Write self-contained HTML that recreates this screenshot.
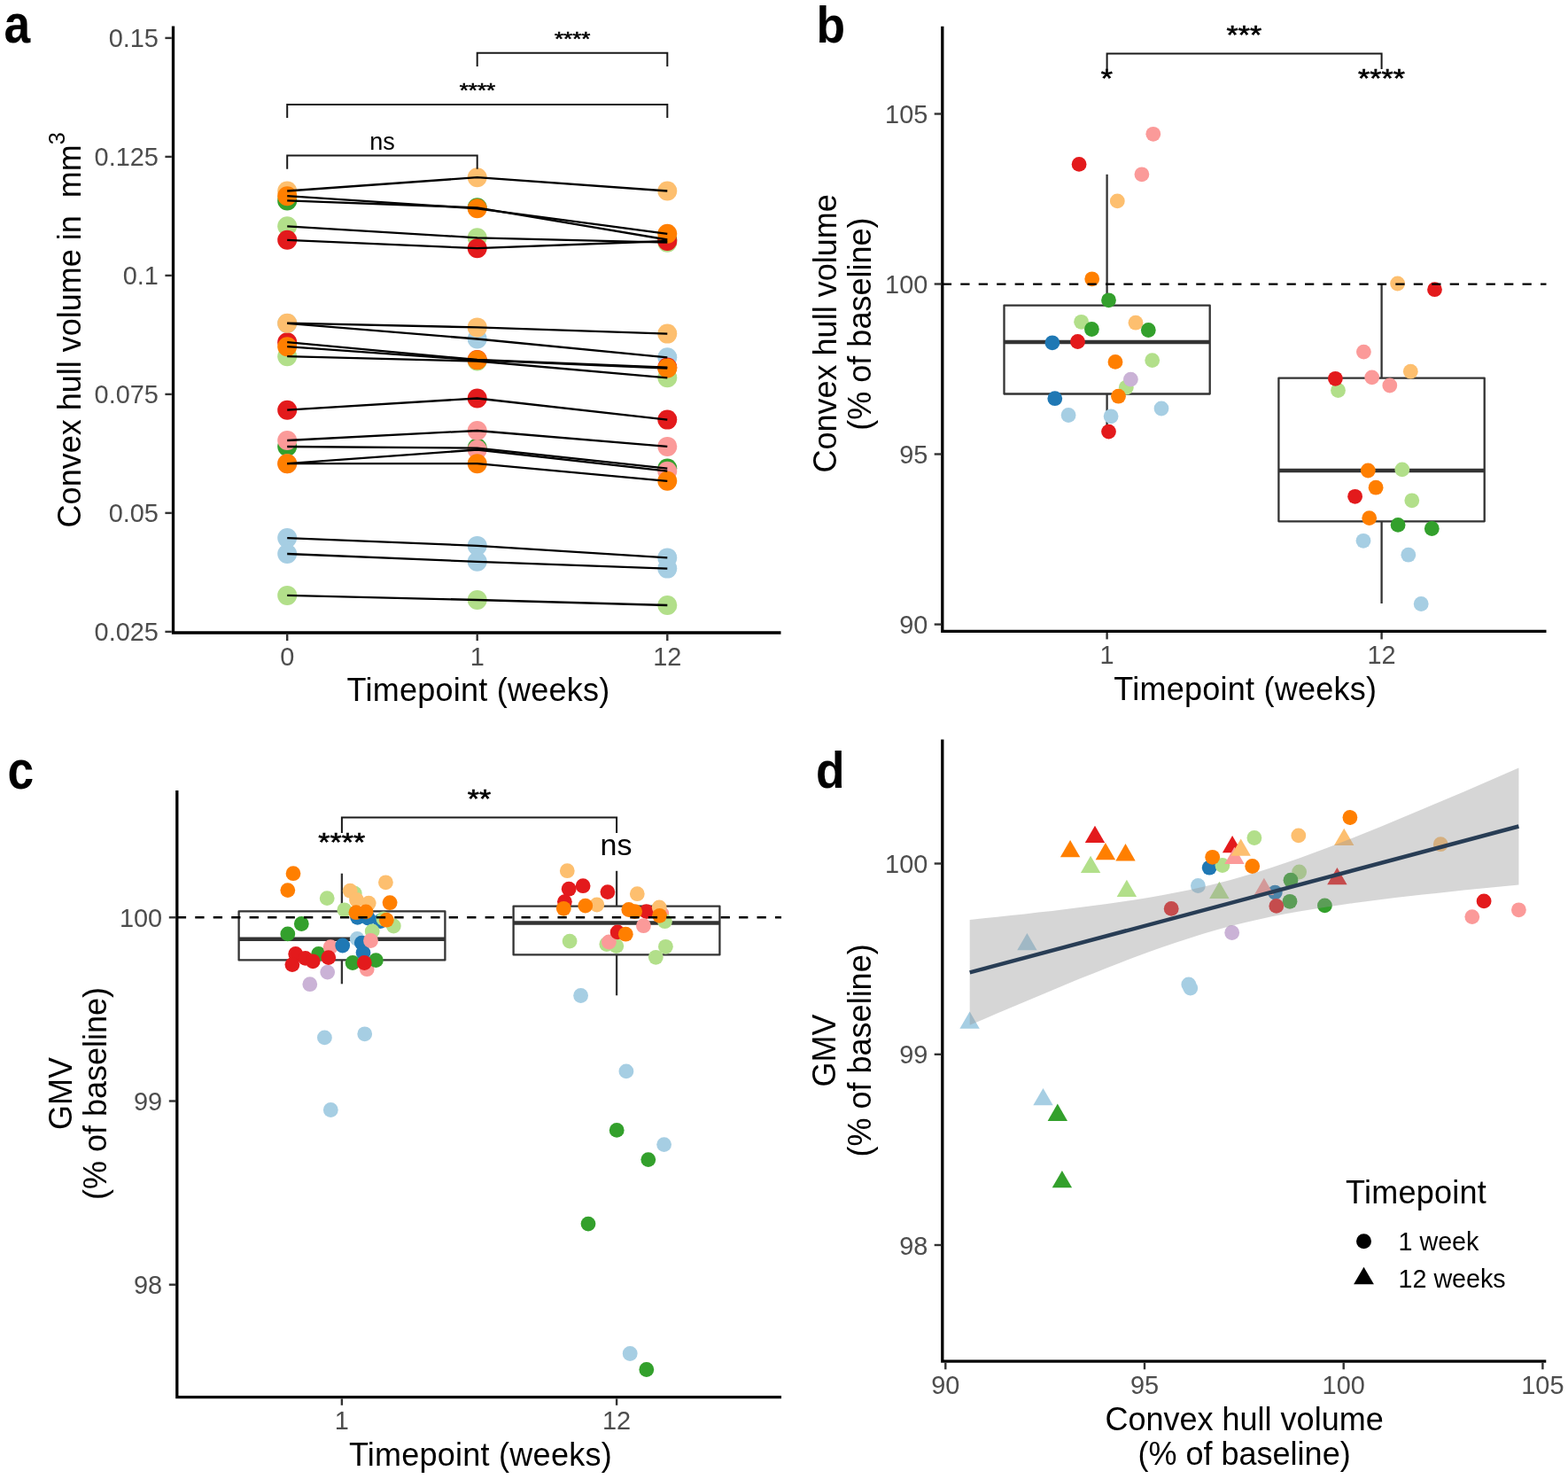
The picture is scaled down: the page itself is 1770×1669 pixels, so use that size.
<!DOCTYPE html>
<html lang="en"><head><meta charset="utf-8"><title>Figure</title>
<style>html,body{margin:0;padding:0;background:#fff}svg{display:block}text{font-family:'Liberation Sans', sans-serif}</style>
</head><body>
<svg width="1770" height="1669" viewBox="0 0 1770 1669">
<rect width="1770" height="1669" fill="#fff"/>
<text transform="translate(4.5 47.7) scale(0.92 1.05)" font-size="58" font-weight="bold" fill="#000">a</text>
<text transform="translate(921.5 47.7) scale(0.92 1.0)" font-size="58" font-weight="bold" fill="#000">b</text>
<text transform="translate(8.5 889.6) scale(0.92 1.06)" font-size="58" font-weight="bold" fill="#000">c</text>
<text transform="translate(921 888.6) scale(0.92 1.0)" font-size="58" font-weight="bold" fill="#000">d</text>
<g id="panel-a">
<circle cx="324.2" cy="364.9" r="11" fill="#A6CEE3"/>
<circle cx="538.7" cy="382.5" r="11" fill="#A6CEE3"/>
<circle cx="753.3" cy="403.3" r="11" fill="#A6CEE3"/>
<circle cx="324.2" cy="215.5" r="11" fill="#FDBF6F"/>
<circle cx="538.7" cy="200.2" r="11" fill="#FDBF6F"/>
<circle cx="753.3" cy="215.5" r="11" fill="#FDBF6F"/>
<circle cx="324.2" cy="255.3" r="11" fill="#B2DF8A"/>
<circle cx="538.7" cy="268.3" r="11" fill="#B2DF8A"/>
<circle cx="753.3" cy="273.7" r="11" fill="#B2DF8A"/>
<circle cx="324.2" cy="402.2" r="11" fill="#B2DF8A"/>
<circle cx="538.7" cy="407.5" r="11" fill="#B2DF8A"/>
<circle cx="753.3" cy="426.3" r="11" fill="#B2DF8A"/>
<circle cx="324.2" cy="226.4" r="11" fill="#33A02C"/>
<circle cx="538.7" cy="234.3" r="11" fill="#33A02C"/>
<circle cx="753.3" cy="270.5" r="11" fill="#33A02C"/>
<circle cx="324.2" cy="504" r="11" fill="#33A02C"/>
<circle cx="538.7" cy="505.6" r="11" fill="#33A02C"/>
<circle cx="753.3" cy="528.6" r="11" fill="#33A02C"/>
<circle cx="324.2" cy="497" r="11" fill="#FB9A99"/>
<circle cx="538.7" cy="486" r="11" fill="#FB9A99"/>
<circle cx="753.3" cy="503.9" r="11" fill="#FB9A99"/>
<circle cx="324.2" cy="523.2" r="11" fill="#FB9A99"/>
<circle cx="538.7" cy="507.5" r="11" fill="#FB9A99"/>
<circle cx="753.3" cy="531.7" r="11" fill="#FB9A99"/>
<circle cx="324.2" cy="270.8" r="11" fill="#E31A1C"/>
<circle cx="538.7" cy="280.2" r="11" fill="#E31A1C"/>
<circle cx="753.3" cy="272" r="11" fill="#E31A1C"/>
<circle cx="324.2" cy="386.2" r="11" fill="#E31A1C"/>
<circle cx="538.7" cy="406" r="11" fill="#E31A1C"/>
<circle cx="753.3" cy="414.6" r="11" fill="#E31A1C"/>
<circle cx="324.2" cy="462.7" r="11" fill="#E31A1C"/>
<circle cx="538.7" cy="449.5" r="11" fill="#E31A1C"/>
<circle cx="753.3" cy="473.6" r="11" fill="#E31A1C"/>
<circle cx="324.2" cy="364.7" r="11" fill="#FDBF6F"/>
<circle cx="538.7" cy="369.4" r="11" fill="#FDBF6F"/>
<circle cx="753.3" cy="376.6" r="11" fill="#FDBF6F"/>
<circle cx="324.2" cy="221.2" r="11" fill="#FF7F00"/>
<circle cx="538.7" cy="235.3" r="11" fill="#FF7F00"/>
<circle cx="753.3" cy="263.8" r="11" fill="#FF7F00"/>
<circle cx="324.2" cy="391.2" r="11" fill="#FF7F00"/>
<circle cx="538.7" cy="406.3" r="11" fill="#FF7F00"/>
<circle cx="753.3" cy="415.5" r="11" fill="#FF7F00"/>
<circle cx="324.2" cy="523.2" r="11" fill="#FF7F00"/>
<circle cx="538.7" cy="523.2" r="11" fill="#FF7F00"/>
<circle cx="753.3" cy="542.8" r="11" fill="#FF7F00"/>
<circle cx="324.2" cy="607.1" r="11" fill="#A6CEE3"/>
<circle cx="538.7" cy="615.9" r="11" fill="#A6CEE3"/>
<circle cx="753.3" cy="629.4" r="11" fill="#A6CEE3"/>
<circle cx="324.2" cy="625" r="11" fill="#A6CEE3"/>
<circle cx="538.7" cy="633.8" r="11" fill="#A6CEE3"/>
<circle cx="753.3" cy="641.6" r="11" fill="#A6CEE3"/>
<circle cx="324.2" cy="671.9" r="11" fill="#B2DF8A"/>
<circle cx="538.7" cy="677" r="11" fill="#B2DF8A"/>
<circle cx="753.3" cy="683" r="11" fill="#B2DF8A"/>
<polyline points="324.2,364.9 538.7,382.5 753.3,403.3" fill="none" stroke="#000" stroke-width="2.3" stroke-linejoin="round"/>
<polyline points="324.2,215.5 538.7,200.2 753.3,215.5" fill="none" stroke="#000" stroke-width="2.3" stroke-linejoin="round"/>
<polyline points="324.2,255.3 538.7,268.3 753.3,273.7" fill="none" stroke="#000" stroke-width="2.3" stroke-linejoin="round"/>
<polyline points="324.2,402.2 538.7,407.5 753.3,426.3" fill="none" stroke="#000" stroke-width="2.3" stroke-linejoin="round"/>
<polyline points="324.2,226.4 538.7,234.3 753.3,270.5" fill="none" stroke="#000" stroke-width="2.3" stroke-linejoin="round"/>
<polyline points="324.2,504 538.7,505.6 753.3,528.6" fill="none" stroke="#000" stroke-width="2.3" stroke-linejoin="round"/>
<polyline points="324.2,497 538.7,486 753.3,503.9" fill="none" stroke="#000" stroke-width="2.3" stroke-linejoin="round"/>
<polyline points="324.2,523.2 538.7,507.5 753.3,531.7" fill="none" stroke="#000" stroke-width="2.3" stroke-linejoin="round"/>
<polyline points="324.2,270.8 538.7,280.2 753.3,272" fill="none" stroke="#000" stroke-width="2.3" stroke-linejoin="round"/>
<polyline points="324.2,386.2 538.7,406 753.3,414.6" fill="none" stroke="#000" stroke-width="2.3" stroke-linejoin="round"/>
<polyline points="324.2,462.7 538.7,449.5 753.3,473.6" fill="none" stroke="#000" stroke-width="2.3" stroke-linejoin="round"/>
<polyline points="324.2,364.7 538.7,369.4 753.3,376.6" fill="none" stroke="#000" stroke-width="2.3" stroke-linejoin="round"/>
<polyline points="324.2,221.2 538.7,235.3 753.3,263.8" fill="none" stroke="#000" stroke-width="2.3" stroke-linejoin="round"/>
<polyline points="324.2,391.2 538.7,406.3 753.3,415.5" fill="none" stroke="#000" stroke-width="2.3" stroke-linejoin="round"/>
<polyline points="324.2,523.2 538.7,523.2 753.3,542.8" fill="none" stroke="#000" stroke-width="2.3" stroke-linejoin="round"/>
<polyline points="324.2,607.1 538.7,615.9 753.3,629.4" fill="none" stroke="#000" stroke-width="2.3" stroke-linejoin="round"/>
<polyline points="324.2,625 538.7,633.8 753.3,641.6" fill="none" stroke="#000" stroke-width="2.3" stroke-linejoin="round"/>
<polyline points="324.2,671.9 538.7,677 753.3,683" fill="none" stroke="#000" stroke-width="2.3" stroke-linejoin="round"/>
<path d="M538.7 75.1 V59.7 H753.3 V75.1" fill="none" stroke="#1a1a1a" stroke-width="2.0"/>
<path d="M324.2 133 V118 H753.3 V133" fill="none" stroke="#1a1a1a" stroke-width="2.0"/>
<path d="M324.2 190.8 V175.5 H538.7 V190.8" fill="none" stroke="#1a1a1a" stroke-width="2.0"/>
<text transform="translate(646.2 40.1) scale(1 0.86)" y="12.6" font-size="26" fill="#000" stroke="#000" stroke-width="0.7" text-anchor="middle">****</text>
<text transform="translate(538.9 98) scale(1 0.86)" y="12.6" font-size="26" fill="#000" stroke="#000" stroke-width="0.7" text-anchor="middle">****</text>
<text x="431.5" y="169.1" font-size="27" fill="#000" text-anchor="middle">ns</text>
<path d="M195.5 29.4 V714 H881.5" fill="none" stroke="#000" stroke-width="3.3" stroke-linejoin="miter"/>
<line x1="186.4" y1="42.9" x2="193.8" y2="42.9" stroke="#333333" stroke-width="2.4"/>
<text x="178.9" y="53.4" font-size="28.9" fill="#4D4D4D" text-anchor="end">0.15</text>
<line x1="186.4" y1="176.9" x2="193.8" y2="176.9" stroke="#333333" stroke-width="2.4"/>
<text x="178.9" y="187.4" font-size="28.9" fill="#4D4D4D" text-anchor="end">0.125</text>
<line x1="186.4" y1="310.9" x2="193.8" y2="310.9" stroke="#333333" stroke-width="2.4"/>
<text x="178.9" y="321.4" font-size="28.9" fill="#4D4D4D" text-anchor="end">0.1</text>
<line x1="186.4" y1="444.9" x2="193.8" y2="444.9" stroke="#333333" stroke-width="2.4"/>
<text x="178.9" y="455.4" font-size="28.9" fill="#4D4D4D" text-anchor="end">0.075</text>
<line x1="186.4" y1="578.9" x2="193.8" y2="578.9" stroke="#333333" stroke-width="2.4"/>
<text x="178.9" y="589.4" font-size="28.9" fill="#4D4D4D" text-anchor="end">0.05</text>
<line x1="186.4" y1="712.9" x2="193.8" y2="712.9" stroke="#333333" stroke-width="2.4"/>
<text x="178.9" y="723.4" font-size="28.9" fill="#4D4D4D" text-anchor="end">0.025</text>
<line x1="324.2" y1="715.6" x2="324.2" y2="723" stroke="#333333" stroke-width="2.4"/>
<text x="324.2" y="750.6" font-size="28.9" fill="#4D4D4D" text-anchor="middle">0</text>
<line x1="538.7" y1="715.6" x2="538.7" y2="723" stroke="#333333" stroke-width="2.4"/>
<text x="538.7" y="750.6" font-size="28.9" fill="#4D4D4D" text-anchor="middle">1</text>
<line x1="753.3" y1="715.6" x2="753.3" y2="723" stroke="#333333" stroke-width="2.4"/>
<text x="753.3" y="750.6" font-size="28.9" fill="#4D4D4D" text-anchor="middle">12</text>
<text x="540" y="790.8" font-size="36" fill="#000" text-anchor="middle" letter-spacing="0.25">Timepoint (weeks)</text>
<text transform="translate(91.1 372.3) rotate(-90)" font-size="36" fill="#000" text-anchor="middle">Convex hull volume in&#160;&#160;mm<tspan dy="-17.7" font-size="25.2">3</tspan></text>
</g>
<g id="panel-b">
<line x1="1249.6" y1="196.8" x2="1249.6" y2="344.6" stroke="#333333" stroke-width="2.3"/>
<line x1="1249.6" y1="444.5" x2="1249.6" y2="487.1" stroke="#333333" stroke-width="2.3"/>
<rect x="1133.5" y="344.6" width="232.2" height="99.9" fill="#fff" stroke="#333333" stroke-width="2.3" stroke-linejoin="round"/>
<line x1="1133.5" y1="386" x2="1365.7" y2="386" stroke="#333333" stroke-width="4.6"/>
<line x1="1559.6" y1="320.4" x2="1559.6" y2="426.6" stroke="#333333" stroke-width="2.3"/>
<line x1="1559.6" y1="588.3" x2="1559.6" y2="681" stroke="#333333" stroke-width="2.3"/>
<rect x="1443.4" y="426.6" width="232.3" height="161.7" fill="#fff" stroke="#333333" stroke-width="2.3" stroke-linejoin="round"/>
<line x1="1443.4" y1="531" x2="1675.7" y2="531" stroke="#333333" stroke-width="4.6"/>
<circle cx="1301.8" cy="151.3" r="8.4" fill="#FB9A99"/>
<circle cx="1218.1" cy="185.4" r="8.4" fill="#E31A1C"/>
<circle cx="1288.9" cy="196.8" r="8.4" fill="#FB9A99"/>
<circle cx="1261.3" cy="226.9" r="8.4" fill="#FDBF6F"/>
<circle cx="1232.7" cy="314.8" r="8.4" fill="#FF7F00"/>
<circle cx="1251.5" cy="338.8" r="8.4" fill="#33A02C"/>
<circle cx="1220.6" cy="363.3" r="8.4" fill="#B2DF8A"/>
<circle cx="1232.4" cy="371.5" r="8.4" fill="#33A02C"/>
<circle cx="1282" cy="364.2" r="8.4" fill="#FDBF6F"/>
<circle cx="1296.3" cy="372.5" r="8.4" fill="#33A02C"/>
<circle cx="1187.9" cy="386.8" r="8.4" fill="#1F78B4"/>
<circle cx="1216.5" cy="385.5" r="8.4" fill="#E31A1C"/>
<circle cx="1259" cy="408.4" r="8.4" fill="#FF7F00"/>
<circle cx="1300.7" cy="406.6" r="8.4" fill="#B2DF8A"/>
<circle cx="1271.3" cy="437.2" r="8.4" fill="#B2DF8A"/>
<circle cx="1276.4" cy="428.1" r="8.4" fill="#CAB2D6"/>
<circle cx="1262.5" cy="447.2" r="8.4" fill="#FF7F00"/>
<circle cx="1190.8" cy="449.7" r="8.4" fill="#1F78B4"/>
<circle cx="1206.1" cy="468.5" r="8.4" fill="#A6CEE3"/>
<circle cx="1254.1" cy="469.8" r="8.4" fill="#A6CEE3"/>
<circle cx="1311" cy="461" r="8.4" fill="#A6CEE3"/>
<circle cx="1251.5" cy="487.1" r="8.4" fill="#E31A1C"/>
<circle cx="1577.6" cy="320" r="8.4" fill="#FDBF6F"/>
<circle cx="1619.5" cy="326.7" r="8.4" fill="#E31A1C"/>
<circle cx="1539.4" cy="397.1" r="8.4" fill="#FB9A99"/>
<circle cx="1592.3" cy="419.2" r="8.4" fill="#FDBF6F"/>
<circle cx="1510.5" cy="440.5" r="8.4" fill="#B2DF8A"/>
<circle cx="1507.4" cy="427.3" r="8.4" fill="#E31A1C"/>
<circle cx="1548.7" cy="425.9" r="8.4" fill="#FB9A99"/>
<circle cx="1568.8" cy="435" r="8.4" fill="#FB9A99"/>
<circle cx="1544.3" cy="531" r="8.4" fill="#FF7F00"/>
<circle cx="1582.8" cy="529.9" r="8.4" fill="#B2DF8A"/>
<circle cx="1553.1" cy="550.2" r="8.4" fill="#FF7F00"/>
<circle cx="1529.6" cy="560.3" r="8.4" fill="#E31A1C"/>
<circle cx="1593.8" cy="564.8" r="8.4" fill="#B2DF8A"/>
<circle cx="1545.7" cy="584.6" r="8.4" fill="#FF7F00"/>
<circle cx="1578.1" cy="592.4" r="8.4" fill="#33A02C"/>
<circle cx="1616.3" cy="596.5" r="8.4" fill="#33A02C"/>
<circle cx="1539" cy="610.3" r="8.4" fill="#A6CEE3"/>
<circle cx="1589.8" cy="626.2" r="8.4" fill="#A6CEE3"/>
<circle cx="1604.2" cy="681.5" r="8.4" fill="#A6CEE3"/>
<line x1="1063.8" y1="320.6" x2="1745.5" y2="320.6" stroke="#000" stroke-width="2.4" stroke-dasharray="10.3 10.16"/>
<path d="M1249.6 78 V60.6 H1559.6 V78" fill="none" stroke="#1a1a1a" stroke-width="2.0"/>
<text transform="translate(1404.4 34.5) scale(1 0.86)" y="16.5" font-size="34" fill="#000" stroke="#000" stroke-width="0.7" text-anchor="middle">***</text>
<text transform="translate(1249.4 83.6) scale(1 0.86)" y="16.5" font-size="34" fill="#000" stroke="#000" stroke-width="0.7" text-anchor="middle">*</text>
<text transform="translate(1559.4 83.6) scale(1 0.86)" y="16.5" font-size="34" fill="#000" stroke="#000" stroke-width="0.7" text-anchor="middle">****</text>
<path d="M1063.8 29.7 V712.4 H1745.5" fill="none" stroke="#000" stroke-width="3.3" stroke-linejoin="miter"/>
<line x1="1054.7" y1="128.5" x2="1062.1" y2="128.5" stroke="#333333" stroke-width="2.4"/>
<text x="1047.3" y="139" font-size="28.9" fill="#4D4D4D" text-anchor="end">105</text>
<line x1="1054.7" y1="320.5" x2="1062.1" y2="320.5" stroke="#333333" stroke-width="2.4"/>
<text x="1047.3" y="331" font-size="28.9" fill="#4D4D4D" text-anchor="end">100</text>
<line x1="1054.7" y1="512.5" x2="1062.1" y2="512.5" stroke="#333333" stroke-width="2.4"/>
<text x="1047.3" y="523" font-size="28.9" fill="#4D4D4D" text-anchor="end">95</text>
<line x1="1054.7" y1="704.6" x2="1062.1" y2="704.6" stroke="#333333" stroke-width="2.4"/>
<text x="1047.3" y="715.1" font-size="28.9" fill="#4D4D4D" text-anchor="end">90</text>
<line x1="1249.6" y1="714" x2="1249.6" y2="721.4" stroke="#333333" stroke-width="2.4"/>
<text x="1249.6" y="749" font-size="28.9" fill="#4D4D4D" text-anchor="middle">1</text>
<line x1="1559.6" y1="714" x2="1559.6" y2="721.4" stroke="#333333" stroke-width="2.4"/>
<text x="1559.6" y="749" font-size="28.9" fill="#4D4D4D" text-anchor="middle">12</text>
<text x="1405.8" y="790.4" font-size="36" fill="#000" text-anchor="middle" letter-spacing="0.25">Timepoint (weeks)</text>
<text transform="translate(943.9 376.4) rotate(-90)" font-size="36" fill="#000" text-anchor="middle">Convex hull volume</text>
<text transform="translate(982.8 365.6) rotate(-90)" font-size="36" fill="#000" text-anchor="middle">(% of baseline)</text>
</g>
<g id="panel-c">
<line x1="385.9" y1="985.7" x2="385.9" y2="1028.4" stroke="#333333" stroke-width="2.3"/>
<line x1="385.9" y1="1083.4" x2="385.9" y2="1110.3" stroke="#333333" stroke-width="2.3"/>
<rect x="269.6" y="1028.4" width="232.8" height="55" fill="#fff" stroke="#333333" stroke-width="2.3" stroke-linejoin="round"/>
<line x1="269.6" y1="1059.8" x2="502.4" y2="1059.8" stroke="#333333" stroke-width="4.6"/>
<line x1="696.1" y1="982.8" x2="696.1" y2="1022.6" stroke="#333333" stroke-width="2.3"/>
<line x1="696.1" y1="1077.4" x2="696.1" y2="1123.3" stroke="#333333" stroke-width="2.3"/>
<rect x="579.6" y="1022.6" width="232.8" height="54.8" fill="#fff" stroke="#333333" stroke-width="2.3" stroke-linejoin="round"/>
<line x1="579.6" y1="1041.5" x2="812.4" y2="1041.5" stroke="#333333" stroke-width="4.6"/>
<circle cx="331" cy="985.7" r="8.4" fill="#FF7F00"/>
<circle cx="324.8" cy="1004.6" r="8.4" fill="#FF7F00"/>
<circle cx="435.4" cy="995.8" r="8.4" fill="#FDBF6F"/>
<circle cx="369.2" cy="1013.6" r="8.4" fill="#B2DF8A"/>
<circle cx="400.3" cy="1008.1" r="8.4" fill="#B2DF8A"/>
<circle cx="395.2" cy="1005.2" r="8.4" fill="#FDBF6F"/>
<circle cx="402.5" cy="1015.5" r="8.4" fill="#FDBF6F"/>
<circle cx="416.2" cy="1019.2" r="8.4" fill="#FDBF6F"/>
<circle cx="440.1" cy="1018.7" r="8.4" fill="#FF7F00"/>
<circle cx="388.8" cy="1026.8" r="8.4" fill="#B2DF8A"/>
<circle cx="403.6" cy="1035.3" r="8.4" fill="#1F78B4"/>
<circle cx="415.5" cy="1036.1" r="8.4" fill="#1F78B4"/>
<circle cx="429.5" cy="1039.5" r="8.4" fill="#1F78B4"/>
<circle cx="401.9" cy="1029.7" r="8.4" fill="#FF7F00"/>
<circle cx="413" cy="1028.9" r="8.4" fill="#FF7F00"/>
<circle cx="432.9" cy="1036.9" r="8.4" fill="#B2DF8A"/>
<circle cx="444.3" cy="1045" r="8.4" fill="#B2DF8A"/>
<circle cx="436.3" cy="1038.2" r="8.4" fill="#FF7F00"/>
<circle cx="420.2" cy="1050.9" r="8.4" fill="#B2DF8A"/>
<circle cx="340.3" cy="1042.5" r="8.4" fill="#33A02C"/>
<circle cx="324.8" cy="1053.9" r="8.4" fill="#33A02C"/>
<circle cx="403.2" cy="1059.4" r="8.4" fill="#A6CEE3"/>
<circle cx="408.3" cy="1064.1" r="8.4" fill="#1F78B4"/>
<circle cx="410" cy="1075.1" r="8.4" fill="#1F78B4"/>
<circle cx="418.5" cy="1061.5" r="8.4" fill="#FB9A99"/>
<circle cx="359.6" cy="1076.4" r="8.4" fill="#33A02C"/>
<circle cx="333.7" cy="1076.4" r="8.4" fill="#E31A1C"/>
<circle cx="344.7" cy="1081.4" r="8.4" fill="#E31A1C"/>
<circle cx="353.2" cy="1084.8" r="8.4" fill="#E31A1C"/>
<circle cx="329.9" cy="1088.6" r="8.4" fill="#E31A1C"/>
<circle cx="373.1" cy="1068.7" r="8.4" fill="#FB9A99"/>
<circle cx="386.7" cy="1067" r="8.4" fill="#1F78B4"/>
<circle cx="369.7" cy="1097.1" r="8.4" fill="#CAB2D6"/>
<circle cx="370.8" cy="1080.6" r="8.4" fill="#E31A1C"/>
<circle cx="414.2" cy="1093.7" r="8.4" fill="#FB9A99"/>
<circle cx="398.1" cy="1086.5" r="8.4" fill="#33A02C"/>
<circle cx="424.4" cy="1083.6" r="8.4" fill="#33A02C"/>
<circle cx="411.3" cy="1086.5" r="8.4" fill="#E31A1C"/>
<circle cx="349.8" cy="1110.7" r="8.4" fill="#CAB2D6"/>
<circle cx="366.4" cy="1170.9" r="8.4" fill="#A6CEE3"/>
<circle cx="411.7" cy="1166.8" r="8.4" fill="#A6CEE3"/>
<circle cx="373.3" cy="1252.5" r="8.4" fill="#A6CEE3"/>
<circle cx="640.3" cy="982.7" r="8.4" fill="#FDBF6F"/>
<circle cx="642.2" cy="1003.2" r="8.4" fill="#E31A1C"/>
<circle cx="658.1" cy="999.7" r="8.4" fill="#E31A1C"/>
<circle cx="685.9" cy="1006.6" r="8.4" fill="#E31A1C"/>
<circle cx="637.4" cy="1017.6" r="8.4" fill="#E31A1C"/>
<circle cx="636.3" cy="1025.3" r="8.4" fill="#FF7F00"/>
<circle cx="673.8" cy="1021" r="8.4" fill="#FDBF6F"/>
<circle cx="660.8" cy="1022.1" r="8.4" fill="#FF7F00"/>
<circle cx="719.3" cy="1008.7" r="8.4" fill="#FDBF6F"/>
<circle cx="709.8" cy="1026.5" r="8.4" fill="#FF7F00"/>
<circle cx="729.7" cy="1028.6" r="8.4" fill="#E31A1C"/>
<circle cx="716.6" cy="1028.6" r="8.4" fill="#FF7F00"/>
<circle cx="746.8" cy="1031" r="8.4" fill="#FB9A99"/>
<circle cx="750.5" cy="1039.7" r="8.4" fill="#B2DF8A"/>
<circle cx="744.2" cy="1024" r="8.4" fill="#FDBF6F"/>
<circle cx="744.6" cy="1033.3" r="8.4" fill="#FF7F00"/>
<circle cx="726.4" cy="1044.7" r="8.4" fill="#FB9A99"/>
<circle cx="684.8" cy="1065.5" r="8.4" fill="#B2DF8A"/>
<circle cx="695.8" cy="1067.6" r="8.4" fill="#B2DF8A"/>
<circle cx="687.4" cy="1063" r="8.4" fill="#FB9A99"/>
<circle cx="697.1" cy="1051.9" r="8.4" fill="#E31A1C"/>
<circle cx="706.3" cy="1054.2" r="8.4" fill="#FF7F00"/>
<circle cx="643.1" cy="1062.1" r="8.4" fill="#B2DF8A"/>
<circle cx="751.4" cy="1068.3" r="8.4" fill="#B2DF8A"/>
<circle cx="740.3" cy="1080.3" r="8.4" fill="#B2DF8A"/>
<circle cx="655.6" cy="1123.5" r="8.4" fill="#A6CEE3"/>
<circle cx="706.9" cy="1208.9" r="8.4" fill="#A6CEE3"/>
<circle cx="696.2" cy="1275.4" r="8.4" fill="#33A02C"/>
<circle cx="749.6" cy="1291.6" r="8.4" fill="#A6CEE3"/>
<circle cx="731.8" cy="1308.6" r="8.4" fill="#33A02C"/>
<circle cx="664" cy="1381.1" r="8.4" fill="#33A02C"/>
<circle cx="711.2" cy="1527.5" r="8.4" fill="#A6CEE3"/>
<circle cx="729.8" cy="1545.5" r="8.4" fill="#33A02C"/>
<line x1="199.8" y1="1035.3" x2="882" y2="1035.3" stroke="#000" stroke-width="2.4" stroke-dasharray="10.3 10.16"/>
<path d="M385.9 940 V922.5 H696.1 V940" fill="none" stroke="#1a1a1a" stroke-width="2.0"/>
<text transform="translate(541 896.6) scale(1 0.86)" y="16.5" font-size="34" fill="#000" stroke="#000" stroke-width="0.7" text-anchor="middle">**</text>
<text transform="translate(385.8 945.8) scale(1 0.86)" y="16.5" font-size="34" fill="#000" stroke="#000" stroke-width="0.7" text-anchor="middle">****</text>
<text x="695.5" y="964.6" font-size="34" fill="#000" text-anchor="middle">ns</text>
<path d="M199.8 891.9 V1576.7 H882" fill="none" stroke="#000" stroke-width="3.3" stroke-linejoin="miter"/>
<line x1="190.8" y1="1035.3" x2="198.2" y2="1035.3" stroke="#333333" stroke-width="2.4"/>
<text x="183.2" y="1045.8" font-size="28.9" fill="#4D4D4D" text-anchor="end">100</text>
<line x1="190.8" y1="1242.5" x2="198.2" y2="1242.5" stroke="#333333" stroke-width="2.4"/>
<text x="183.2" y="1253" font-size="28.9" fill="#4D4D4D" text-anchor="end">99</text>
<line x1="190.8" y1="1449.7" x2="198.2" y2="1449.7" stroke="#333333" stroke-width="2.4"/>
<text x="183.2" y="1460.2" font-size="28.9" fill="#4D4D4D" text-anchor="end">98</text>
<line x1="385.9" y1="1578.4" x2="385.9" y2="1585.8" stroke="#333333" stroke-width="2.4"/>
<text x="385.9" y="1613.3" font-size="28.9" fill="#4D4D4D" text-anchor="middle">1</text>
<line x1="696.1" y1="1578.4" x2="696.1" y2="1585.8" stroke="#333333" stroke-width="2.4"/>
<text x="696.1" y="1613.3" font-size="28.9" fill="#4D4D4D" text-anchor="middle">12</text>
<text x="542.4" y="1654.3" font-size="36" fill="#000" text-anchor="middle" letter-spacing="0.25">Timepoint (weeks)</text>
<text transform="translate(80.8 1234) rotate(-90)" font-size="36" fill="#000" text-anchor="middle">GMV</text>
<text transform="translate(119.7 1234) rotate(-90)" font-size="36" fill="#000" text-anchor="middle">(% of baseline)</text>
</g>
<g id="panel-d">
<circle cx="1365.2" cy="979.2" r="8.4" fill="#1F78B4"/>
<circle cx="1379.9" cy="976.5" r="8.4" fill="#B2DF8A"/>
<circle cx="1368.7" cy="967.3" r="8.4" fill="#FF7F00"/>
<circle cx="1413.7" cy="977.5" r="8.4" fill="#FF7F00"/>
<circle cx="1415.9" cy="945.5" r="8.4" fill="#B2DF8A"/>
<circle cx="1352.4" cy="999.5" r="8.4" fill="#A6CEE3"/>
<circle cx="1322.2" cy="1025.4" r="8.4" fill="#E31A1C"/>
<circle cx="1390.7" cy="1052.5" r="8.4" fill="#CAB2D6"/>
<circle cx="1341.8" cy="1111" r="8.4" fill="#A6CEE3"/>
<circle cx="1343.8" cy="1115.1" r="8.4" fill="#A6CEE3"/>
<circle cx="1465.8" cy="942.9" r="8.4" fill="#FDBF6F"/>
<circle cx="1523.9" cy="922.5" r="8.4" fill="#FF7F00"/>
<circle cx="1626.2" cy="952.7" r="8.4" fill="#FDBF6F"/>
<circle cx="1466.6" cy="984" r="8.4" fill="#B2DF8A"/>
<circle cx="1457" cy="993.2" r="8.4" fill="#33A02C"/>
<circle cx="1439.3" cy="1007.1" r="8.4" fill="#1F78B4"/>
<circle cx="1456" cy="1017.3" r="8.4" fill="#33A02C"/>
<circle cx="1440.8" cy="1022.4" r="8.4" fill="#E31A1C"/>
<circle cx="1495.4" cy="1021.9" r="8.4" fill="#33A02C"/>
<circle cx="1675.1" cy="1016.9" r="8.4" fill="#E31A1C"/>
<circle cx="1661.8" cy="1034.6" r="8.4" fill="#FB9A99"/>
<circle cx="1714.4" cy="1026.8" r="8.4" fill="#FB9A99"/>
<path d="M1208.1 948 L1219.3 967.3 L1196.9 967.3 Z" fill="#FF7F00"/>
<path d="M1236 931.7 L1247.2 951 L1224.8 951 Z" fill="#E31A1C"/>
<path d="M1247.9 951 L1259.1 970.3 L1236.7 970.3 Z" fill="#FF7F00"/>
<path d="M1270.5 952.1 L1281.7 971.4 L1259.3 971.4 Z" fill="#FF7F00"/>
<path d="M1231.1 965.7 L1242.3 985 L1219.9 985 Z" fill="#B2DF8A"/>
<path d="M1271.9 992.8 L1283.1 1012.1 L1260.7 1012.1 Z" fill="#B2DF8A"/>
<path d="M1159.4 1052.9 L1170.6 1072.2 L1148.2 1072.2 Z" fill="#A6CEE3"/>
<path d="M1094.6 1141.5 L1105.8 1160.8 L1083.4 1160.8 Z" fill="#A6CEE3"/>
<path d="M1376.4 994.8 L1387.6 1014.1 L1365.2 1014.1 Z" fill="#B2DF8A"/>
<path d="M1391.1 942.9 L1402.3 962.2 L1379.9 962.2 Z" fill="#E31A1C"/>
<path d="M1393.5 955.7 L1404.7 975 L1382.3 975 Z" fill="#FB9A99"/>
<path d="M1400.7 946.4 L1411.9 965.7 L1389.5 965.7 Z" fill="#FDBF6F"/>
<path d="M1517.2 934.7 L1528.4 954 L1506 954 Z" fill="#FDBF6F"/>
<path d="M1509.4 979 L1520.6 998.3 L1498.2 998.3 Z" fill="#E31A1C"/>
<path d="M1426.9 990.8 L1438.1 1010.1 L1415.7 1010.1 Z" fill="#FB9A99"/>
<path d="M1177.5 1227.9 L1188.7 1247.2 L1166.3 1247.2 Z" fill="#A6CEE3"/>
<path d="M1193.8 1245.6 L1205 1264.9 L1182.6 1264.9 Z" fill="#33A02C"/>
<path d="M1198.9 1321 L1210.1 1340.3 L1187.7 1340.3 Z" fill="#33A02C"/>
<polygon points="1094.7,1037.9 1110.2,1036.3 1125.7,1034.7 1141.2,1033 1156.7,1031.4 1172.2,1029.6 1187.7,1027.9 1203.1,1026 1218.6,1024.1 1234.1,1022.1 1249.6,1020 1265.1,1017.8 1280.6,1015.5 1296.1,1013 1311.6,1010.2 1327.1,1007.3 1342.6,1004.2 1358.1,1000.7 1373.6,997 1389.1,993 1404.6,988.6 1420,984 1435.5,979 1451,973.8 1466.5,968.4 1482,962.8 1497.5,956.9 1513,951 1528.5,944.9 1544,938.7 1559.5,932.4 1575,926 1590.5,919.6 1606,913.1 1621.4,906.6 1636.9,900 1652.4,893.4 1667.9,886.7 1683.4,880 1698.9,873.3 1714.4,866.6 1714.4,998.4 1698.9,999.9 1683.4,1001.5 1667.9,1003 1652.4,1004.6 1636.9,1006.2 1621.4,1007.9 1606,1009.6 1590.5,1011.3 1575,1013.1 1559.5,1015 1544,1017 1528.5,1019 1513,1021.2 1497.5,1023.4 1482,1025.9 1466.5,1028.5 1451,1031.3 1435.5,1034.3 1420,1037.7 1404.6,1041.2 1389.1,1045.1 1373.6,1049.3 1358.1,1053.8 1342.6,1058.7 1327.1,1063.7 1311.6,1069.1 1296.1,1074.6 1280.6,1080.3 1265.1,1086.2 1249.6,1092.2 1234.1,1098.4 1218.6,1104.6 1203.1,1111 1187.7,1117.4 1172.2,1123.9 1156.7,1130.4 1141.2,1136.9 1125.7,1143.5 1110.2,1150.2 1094.7,1156.8" fill="#999999" fill-opacity="0.4"/>
<line x1="1094.7" y1="1097.3" x2="1714.4" y2="932.5" stroke="#283D55" stroke-width="4.4"/>
<path d="M1063.8 834.5 V1536.2 H1745.3" fill="none" stroke="#000" stroke-width="3.3" stroke-linejoin="miter"/>
<line x1="1054.7" y1="974.5" x2="1062.1" y2="974.5" stroke="#333333" stroke-width="2.4"/>
<text x="1047.3" y="985" font-size="28.9" fill="#4D4D4D" text-anchor="end">100</text>
<line x1="1054.7" y1="1189.8" x2="1062.1" y2="1189.8" stroke="#333333" stroke-width="2.4"/>
<text x="1047.3" y="1200.3" font-size="28.9" fill="#4D4D4D" text-anchor="end">99</text>
<line x1="1054.7" y1="1405" x2="1062.1" y2="1405" stroke="#333333" stroke-width="2.4"/>
<text x="1047.3" y="1415.5" font-size="28.9" fill="#4D4D4D" text-anchor="end">98</text>
<line x1="1067.3" y1="1537.9" x2="1067.3" y2="1545.3" stroke="#333333" stroke-width="2.4"/>
<text x="1067.3" y="1573" font-size="28.9" fill="#4D4D4D" text-anchor="middle">90</text>
<line x1="1292" y1="1537.9" x2="1292" y2="1545.3" stroke="#333333" stroke-width="2.4"/>
<text x="1292" y="1573" font-size="28.9" fill="#4D4D4D" text-anchor="middle">95</text>
<line x1="1516.7" y1="1537.9" x2="1516.7" y2="1545.3" stroke="#333333" stroke-width="2.4"/>
<text x="1516.7" y="1573" font-size="28.9" fill="#4D4D4D" text-anchor="middle">100</text>
<line x1="1741.4" y1="1537.9" x2="1741.4" y2="1545.3" stroke="#333333" stroke-width="2.4"/>
<text x="1741.4" y="1573" font-size="28.9" fill="#4D4D4D" text-anchor="middle">105</text>
<text x="1404.6" y="1613.9" font-size="36" fill="#000" text-anchor="middle">Convex hull volume</text>
<text x="1404.6" y="1653" font-size="36" fill="#000" text-anchor="middle">(% of baseline)</text>
<text transform="translate(943.4 1185.4) rotate(-90)" font-size="36" fill="#000" text-anchor="middle">GMV</text>
<text transform="translate(982.6 1185.4) rotate(-90)" font-size="36" fill="#000" text-anchor="middle">(% of baseline)</text>
<text x="1519" y="1358.2" font-size="36" fill="#000" text-anchor="start" letter-spacing="0.25">Timepoint</text>
<circle cx="1539.5" cy="1400.8" r="8.5" fill="#000"/>
<path d="M1539.5 1429.8 L1550.9 1449.3 L1528.1 1449.3 Z" fill="#000"/>
<text x="1578.5" y="1410.8" font-size="28.7" fill="#000" text-anchor="start">1 week</text>
<text x="1578.5" y="1452.6" font-size="28.7" fill="#000" text-anchor="start">12 weeks</text>
</g>
</svg>
</body></html>
